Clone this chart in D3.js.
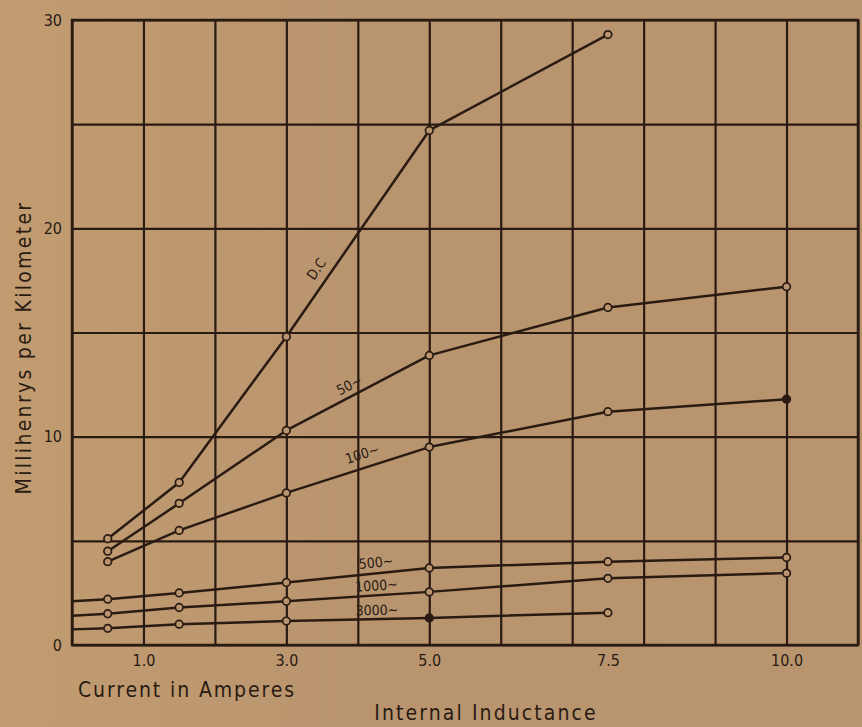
<!DOCTYPE html>
<html>
<head>
<meta charset="utf-8">
<script src="https://cdn.jsdelivr.net/npm/d3@7"></script>
<style>
  html, body { margin: 0; padding: 0; background: #b9946e; }
  svg { display: block; }
  text { font-family: 'DejaVu Sans Condensed', 'Liberation Sans Narrow', 'DejaVu Sans', sans-serif; fill: #2a1b12; }
</style>
</head>
<body>
<svg id="chart" width="862" height="727"></svg>
<script>
// Current in amperes at which each curve was measured
const currents = [0.5, 1.5, 3.0, 5.0, 7.5, 10.0];

// Internal inductance, millihenrys per kilometer
const dcValues    = [5.1, 7.8, 14.8, 24.7, 29.3];
const cy50Values  = [4.5, 6.8, 10.3, 13.9, 16.2, 17.2];
const cy100Values = [4.0, 5.5, 7.3, 9.5, 11.2, 11.8];
const cy500Values = [2.2, 2.5, 3.0, 3.7, 4.0, 4.2];
const cy1000Values = [1.5, 1.8, 2.1, 2.55, 3.2, 3.45];
const cy3000Values = [0.8, 1.0, 1.15, 1.3, 1.55];

// Where the high-frequency curves meet the vertical axis (zero current)
const axisStartValues = { cy500: 2.1, cy1000: 1.4, cy3000: 0.75 };

const seriesNames = ["D.C", "50~", "100~", "500~", "1000~", "3000~"];

// Points drawn as solid dots (series key -> indexes)
const solidPoints = { cy100: [5], cy3000: [3] };

// Axis ticks
const xTickValues = [1.0, 3.0, 5.0, 7.5, 10.0];
const xTickLabels = ["1.0", "3.0", "5.0", "7.5", "10.0"];
const yTickValues = [0, 10, 20, 30];
const xGridValues = d3.range(0, 12, 1);
const yGridValues = d3.range(0, 31, 5);

const series = [
  { key: "dc",     name: seriesNames[0], values: dcValues,     labelAt: 3.58, off: 13 },
  { key: "cy50",   name: seriesNames[1], values: cy50Values,   labelAt: 3.95, off: 10 },
  { key: "cy100",  name: seriesNames[2], values: cy100Values,  labelAt: 4.12, off: 13 },
  { key: "cy500",  name: seriesNames[3], values: cy500Values,  labelAt: 4.27, off: 10 },
  { key: "cy1000", name: seriesNames[4], values: cy1000Values, labelAt: 4.27, off: 9 },
  { key: "cy3000", name: seriesNames[5], values: cy3000Values, labelAt: 4.27, off: 8 }
];

const ink = "#2a1b12";
const paper = "#b9946e";

const svg = d3.select("#chart");

// soft lighter tone on the left of the sheet
const defs = svg.append("defs");
const grad = defs.append("linearGradient").attr("id", "sheet").attr("x1", 0).attr("x2", 1).attr("y1", 0).attr("y2", 0);
grad.append("stop").attr("offset", "0%").attr("stop-color", "#c29c70");
grad.append("stop").attr("offset", "45%").attr("stop-color", "#b8946f");
grad.append("stop").attr("offset", "100%").attr("stop-color", "#b9956f");
svg.append("rect").attr("width", 862).attr("height", 727).attr("fill", "url(#sheet)");

const plot = { left: 72, right: 858, top: 20, bottom: 645 };

const x = d3.scaleLinear().domain([0, 11]).range([plot.left, plot.right]);
const y = d3.scaleLinear().domain([0, 30]).range([plot.bottom, plot.top]);

// Grid
const gridX = svg.append("g")
  .attr("transform", `translate(0,${plot.bottom})`)
  .call(d3.axisBottom(x).tickValues(xGridValues).tickSize(-(plot.bottom - plot.top)).tickFormat(""));
gridX.select(".domain").remove();
gridX.selectAll("line").attr("stroke", ink).attr("stroke-width", 2.2);

const gridY = svg.append("g")
  .attr("transform", `translate(${plot.left},0)`)
  .call(d3.axisLeft(y).tickValues(yGridValues).tickSize(-(plot.right - plot.left)).tickFormat(""));
gridY.select(".domain").remove();
gridY.selectAll("line").attr("stroke", ink).attr("stroke-width", 2.2);

// Frame
svg.append("rect")
  .attr("x", x(0)).attr("y", y(30))
  .attr("width", x(11) - x(0)).attr("height", y(0) - y(30))
  .attr("fill", "none").attr("stroke", ink).attr("stroke-width", 2.5);

// Tick labels
const axX = svg.append("g")
  .attr("transform", `translate(0,${plot.bottom})`)
  .call(d3.axisBottom(x).tickValues(xTickValues).tickSize(0).tickPadding(10)
    .tickFormat((d, i) => xTickLabels[i]));
axX.select(".domain").remove();
axX.selectAll("text").attr("font-size", 16).style("fill", ink);

const axY = svg.append("g")
  .attr("transform", `translate(${plot.left},0)`)
  .call(d3.axisLeft(y).tickValues(yTickValues).tickSize(0).tickPadding(10).tickFormat(d3.format("d")));
axY.select(".domain").remove();
axY.selectAll("text").attr("font-size", 16).style("fill", ink);

// Curves
const line = d3.line().x(d => x(d[0])).y(d => y(d[1]));

series.forEach(s => {
  const pts = s.values.map((v, i) => [currents[i], v]);
  const linePts = axisStartValues[s.key] !== undefined ? [[0, axisStartValues[s.key]], ...pts] : pts;

  svg.append("path")
    .datum(linePts)
    .attr("d", line)
    .attr("fill", "none")
    .attr("stroke", ink)
    .attr("stroke-width", 2.5)
    .attr("stroke-linejoin", "round");

  const solid = solidPoints[s.key] || [];
  svg.append("g").selectAll("circle")
    .data(pts)
    .join("circle")
    .attr("cx", d => x(d[0]))
    .attr("cy", d => y(d[1]))
    .attr("r", 3.8)
    .attr("fill", (d, i) => solid.includes(i) ? ink : paper)
    .attr("stroke", ink)
    .attr("stroke-width", 1.7);

  // Curve label, following the slope of its segment
  const k = d3.bisectRight(currents, s.labelAt) - 1;
  const a = pts[k], b = pts[k + 1];
  const t = (s.labelAt - a[0]) / (b[0] - a[0]);
  const px = x(s.labelAt);
  const py = y(a[1] + t * (b[1] - a[1]));
  const ang = Math.atan2(y(b[1]) - y(a[1]), x(b[0]) - x(a[0]));
  const nx = Math.sin(ang) * s.off, ny = -Math.cos(ang) * s.off;
  svg.append("text")
    .attr("transform", `translate(${px + nx},${py + ny}) rotate(${ang * 180 / Math.PI})`)
    .attr("text-anchor", "middle")
    .attr("dominant-baseline", "middle")
    .attr("font-size", 14)
    .text(s.name);
});

// Axis titles
svg.append("text")
  .attr("transform", `translate(25,${(200 + 495) / 2}) rotate(-90)`)
  .attr("text-anchor", "middle")
  .attr("dominant-baseline", "middle")
  .attr("font-size", 21)
  .attr("letter-spacing", 2.3)
  .text("Millihenrys per Kilometer");

svg.append("text")
  .attr("x", 78).attr("y", 697)
  .attr("font-size", 21)
  .attr("letter-spacing", 1.9)
  .text("Current in Amperes");

svg.append("text")
  .attr("x", 486).attr("y", 720)
  .attr("text-anchor", "middle")
  .attr("font-size", 21)
  .attr("letter-spacing", 2.1)
  .text("Internal Inductance");
</script>
</body>
</html>
